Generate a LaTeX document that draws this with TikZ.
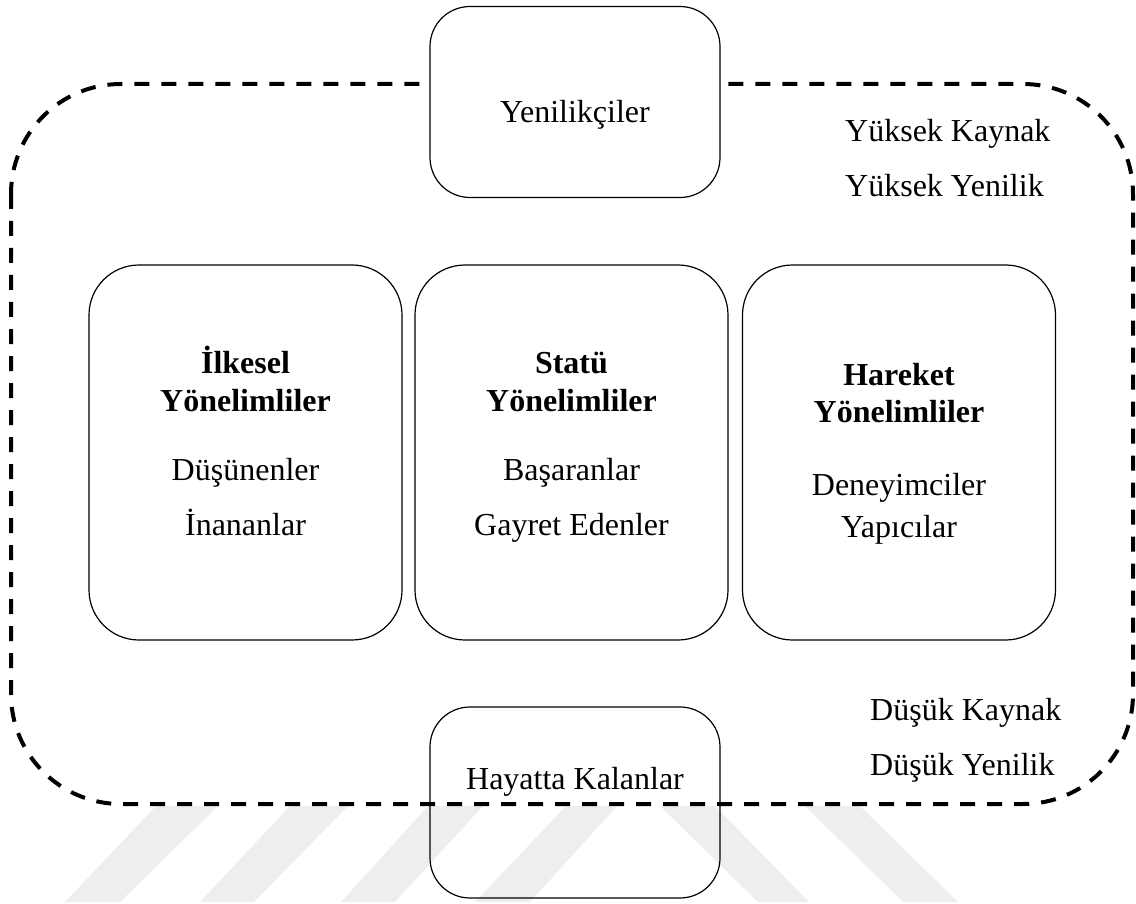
\documentclass[tikz,border=0pt]{standalone}
\usepackage{fontspec}
\setmainfont{Liberation Serif}
\definecolor{wmgray}{RGB}{238,238,238}
\begin{document}
\begin{tikzpicture}[x=1pt,y=-1pt,
  box/.style={draw=black,line width=1.2pt,rectangle,inner sep=0pt},
  colbox/.style={box,rounded corners=50pt,minimum width=313pt,minimum height=375pt},
  endbox/.style={box,rounded corners=40pt,minimum width=290pt,minimum height=191pt},
  txt/.style={anchor=base,inner sep=0pt,font=\fontsize{32}{37}\selectfont},
  btxt/.style={txt,font=\fontsize{32}{37}\selectfont\bfseries},
  ltxt/.style={anchor=base west,inner sep=0pt,font=\fontsize{32}{37}\selectfont},
  wm/.style={fill=wmgray,draw=none},
  outer/.style={draw=black,line width=4pt,dash pattern=on 15pt off 12pt,rounded corners=110pt}]
\useasboundingbox (0,0) rectangle (1136,904);
% faint watermark stripes
\fill[wm] (156,806) -- (218,806) -- (120,902) -- (65,902) -- cycle;
\fill[wm] (290,806) -- (348,806) -- (254,902) -- (200,902) -- cycle;
\fill[wm] (428,806) -- (483,806) -- (395,902) -- (341,902) -- cycle;
\fill[wm] (566,806) -- (617,806) -- (530,902) -- (475,902) -- cycle;
\fill[wm] (660,806) -- (715,806) -- (809,902) -- (758,902) -- cycle;
\fill[wm] (805,806) -- (860,806) -- (958,902) -- (903,902) -- cycle;
% dashed outer frame
\draw[outer] (11,84) rectangle (1133,804);
% top box
\node[endbox,fill=white] (top) at (575,102) {};
\node[txt] (yen) at (575,123) {Yenilikçiler};
% three column boxes
\node[colbox] (left) at (245.5,452.5) {};
\node[colbox] (mid) at (571.5,452.5) {};
\node[colbox] (right) at (899,452.5) {};
\node[btxt] (l1) at (245.5,373) {İlkesel};
\node[btxt] (l2) at (245.5,411) {Yönelimliler};
\node[txt] (l3) at (245.5,480) {Düşünenler};
\node[txt] (l4) at (245.5,535) {İnananlar};
\node[btxt] (m1) at (571.5,373) {Statü};
\node[btxt] (m2) at (571.5,411) {Yönelimliler};
\node[txt] (m3) at (571.5,480) {Başaranlar};
\node[txt] (m4) at (571.5,535) {Gayret Edenler};
\node[btxt] (r1) at (899,385) {Hareket};
\node[btxt] (r2) at (899,422) {Yönelimliler};
\node[txt] (r3) at (899,495) {Deneyimciler};
\node[txt] (r4) at (899,537) {Yapıcılar};
% bottom box
\node[endbox] (bot) at (575,802.5) {};
\node[txt] (hay) at (575,789) {Hayatta Kalanlar};
% side labels
\node[ltxt] (yk) at (845,142) {Yüksek Kaynak};
\node[ltxt] (yy) at (845,197) {Yüksek Yenilik};
\node[ltxt] (dk) at (870,720) {Düşük Kaynak};
\node[ltxt] (dy) at (870,775) {Düşük Yenilik};
\end{tikzpicture}
\end{document}
